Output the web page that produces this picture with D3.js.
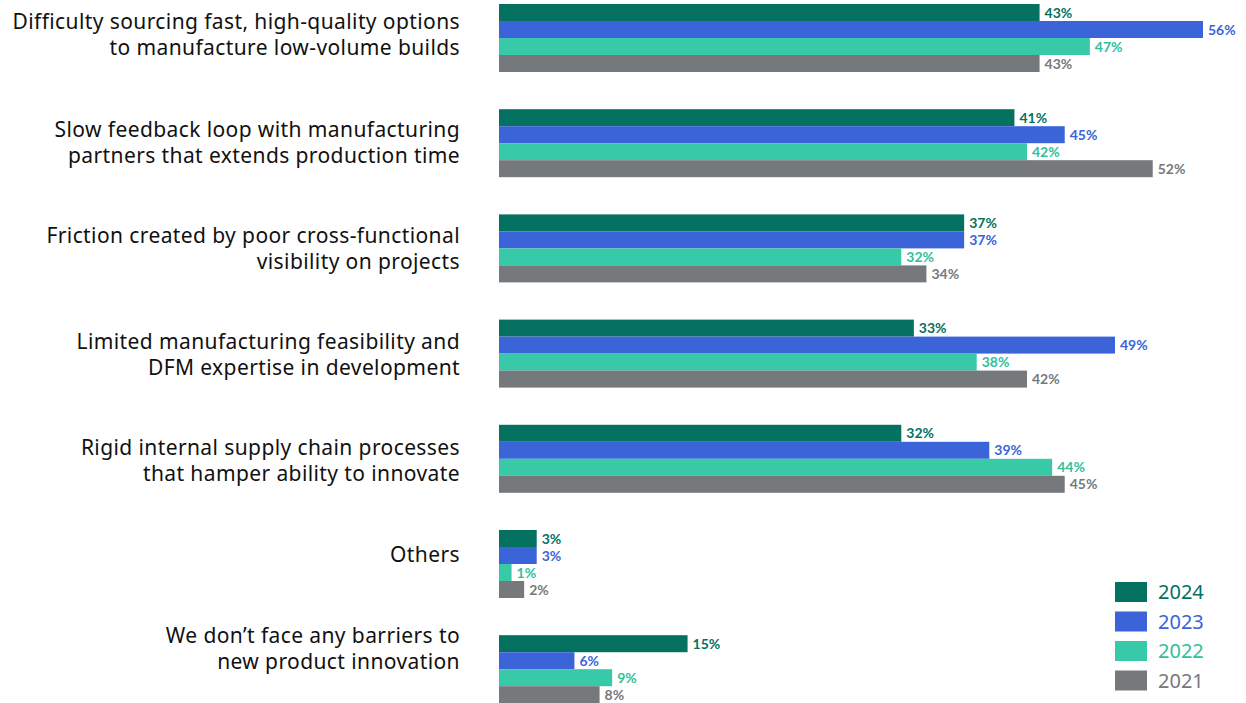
<!DOCTYPE html>
<html>
<head>
<meta charset="utf-8">
<script src="https://cdn.jsdelivr.net/npm/d3@7/dist/d3.min.js"></script>
<style>
  html, body { margin: 0; padding: 0; background: #fff; }
  svg { display: block; }
</style>
</head>
<body>
<svg id="chart" width="1246" height="703"></svg>
<script>
// Barriers to new product innovation, share of respondents by survey year
const categories = [
  ["Difficulty sourcing fast, high-quality options", "to manufacture low-volume builds"],
  ["Slow feedback loop with manufacturing", "partners that extends production time"],
  ["Friction created by poor cross-functional", "visibility on projects"],
  ["Limited manufacturing feasibility and", "DFM expertise in development"],
  ["Rigid internal supply chain processes", "that hamper ability to innovate"],
  ["Others"],
  ["We don\u2019t face any barriers to", "new product innovation"]
];
const years = ["2024", "2023", "2022", "2021"];
const values2024 = [43, 41, 37, 33, 32, 3, 15];
const values2023 = [56, 45, 37, 49, 39, 3, 6];
const values2022 = [47, 42, 32, 38, 44, 1, 9];
const values2021 = [43, 52, 34, 42, 45, 2, 8];
const seriesValues = [values2024, values2023, values2022, values2021];
const barColors = ["#047161", "#3a64d8", "#38c9a8", "#76797c"];
const textColors = ["#047161", "#3a64d8", "#2fbf9c", "#76797c"];

const svg = d3.select("#chart");
const left = 499, barH = 17, groupTop = 4, groupStep = 105.2;
// vertical nudge of each category label relative to its bar group's centre
const labelShift = [-3, -1, 0, 1, 2, -9, -21];

const x = d3.scaleLinear().domain([0, 56]).range([left, 1203]);
const yGroup = d3.scaleLinear().domain([0, 1]).range([groupTop, groupTop + groupStep]);
const ySub = d3.scaleBand().domain(years).range([0, barH * 4]).padding(0);

categories.forEach((lines, i) => {
  const g = svg.append("g").attr("transform", `translate(0,${yGroup(i)})`);
  const mid = barH * 2 + labelShift[i];
  const lineH = 26;
  const t = g.append("text")
    .attr("x", 460)
    .attr("text-anchor", "end")
    .attr("font-family", "'Noto Sans', sans-serif")
    .attr("font-size", 21)
    .attr("letter-spacing", 0.4)
    .attr("fill", "#111");
  lines.forEach((ln, k) => {
    t.append("tspan")
      .attr("x", 460)
      .attr("y", mid + (k - (lines.length - 1) / 2) * lineH)
      .attr("dy", "0.35em")
      .text(ln);
  });

  years.forEach((yr, s) => {
    const v = seriesValues[s][i];
    g.append("rect")
      .attr("x", x(0))
      .attr("y", ySub(yr))
      .attr("width", x(v) - x(0))
      .attr("height", ySub.bandwidth())
      .attr("fill", barColors[s]);
    g.append("text")
      .attr("x", x(v) + 5)
      .attr("y", ySub(yr) + ySub.bandwidth() / 2)
      .attr("dy", "0.36em")
      .attr("font-family", "Lato, sans-serif")
      .attr("font-weight", "bold")
      .attr("font-size", 14)
      .attr("fill", textColors[s])
      .text(v + "%");
  });
});

// Legend
const legend = svg.append("g").attr("transform", "translate(1115,582)");
years.forEach((yr, s) => {
  const row = legend.append("g").attr("transform", `translate(0,${s * 29.5})`);
  row.append("rect").attr("width", 32).attr("height", 20).attr("fill", barColors[s]);
  row.append("text")
    .attr("x", 43).attr("y", 10).attr("dy", "0.36em")
    .attr("font-family", "'Noto Sans', sans-serif")
    .attr("font-size", 20)
    .attr("fill", textColors[s])
    .text(yr);
});
</script>
</body>
</html>
